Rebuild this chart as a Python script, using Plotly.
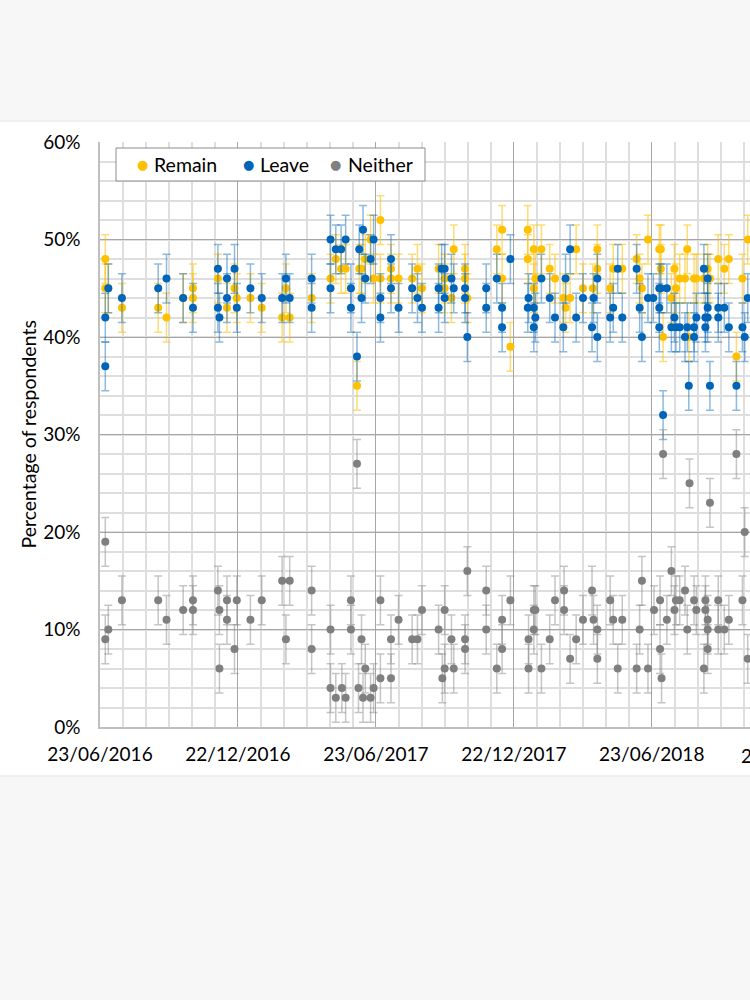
import plotly.graph_objects as go

# ---------------- data ----------------
remain_dates = [
    "2016-06-30", "2016-06-30", "2016-07-04", "2016-07-22", "2016-09-08", "2016-09-19", "2016-10-11", "2016-10-24",
    "2016-10-24", "2016-11-26", "2016-12-08", "2016-12-18", "2016-12-21", "2017-01-08", "2017-01-23", "2017-02-19",
    "2017-02-24", "2017-03-01", "2017-03-30", "2017-04-24", "2017-05-01", "2017-05-08", "2017-05-14", "2017-05-29",
    "2017-06-01", "2017-06-04", "2017-06-09", "2017-06-16", "2017-06-20", "2017-06-29", "2017-06-29", "2017-07-13",
    "2017-07-13", "2017-07-23", "2017-08-10", "2017-08-17", "2017-08-23", "2017-09-14", "2017-09-22", "2017-09-22",
    "2017-10-01", "2017-10-04", "2017-10-19", "2017-10-19", "2017-10-22", "2017-11-30", "2017-12-07", "2017-12-07",
    "2017-12-18", "2018-01-10", "2018-01-10", "2018-01-18", "2018-01-18", "2018-01-20", "2018-01-28", "2018-02-08",
    "2018-02-15", "2018-02-26", "2018-03-01", "2018-03-07", "2018-03-15", "2018-03-24", "2018-04-06", "2018-04-12",
    "2018-04-12", "2018-04-29", "2018-05-03", "2018-05-15", "2018-06-03", "2018-06-07", "2018-06-10", "2018-06-18",
    "2018-07-03", "2018-07-05", "2018-07-05", "2018-07-08", "2018-07-19", "2018-07-23", "2018-07-25", "2018-07-30",
    "2018-08-06", "2018-08-09", "2018-08-11", "2018-08-18", "2018-08-21", "2018-08-31", "2018-09-05", "2018-09-08",
    "2018-09-19", "2018-09-27", "2018-10-03", "2018-10-13", "2018-10-21", "2018-10-28",
]
remain_pct = [
    48, 45, 45, 43, 43, 42, 44, 45,
    44, 46, 43, 45, 44, 44, 43, 42,
    45, 42, 44, 46, 48, 47, 47, 35,
    47, 47, 48, 50, 46, 52, 46, 47,
    46, 46, 46, 47, 45, 47, 46, 45,
    44, 49, 47, 46, 44, 49, 51, 46,
    39, 51, 48, 49, 45, 46, 49, 47,
    46, 44, 43, 44, 49, 45, 45, 49,
    47, 45, 47, 47, 48, 46, 45, 50,
    49, 49, 47, 40, 44, 47, 45, 46,
    46, 49, 40, 46, 46, 46, 47, 46,
    48, 47, 48, 38, 46, 50,
]

leave_dates = [
    "2016-06-30", "2016-06-30", "2016-07-04", "2016-07-22", "2016-09-08", "2016-09-19", "2016-10-11", "2016-10-24",
    "2016-11-26", "2016-11-26", "2016-11-28", "2016-12-08", "2016-12-08", "2016-12-18", "2016-12-21", "2017-01-08",
    "2017-01-23", "2017-02-19", "2017-02-24", "2017-03-01", "2017-03-30", "2017-03-30", "2017-04-24", "2017-04-24",
    "2017-05-01", "2017-05-08", "2017-05-14", "2017-05-21", "2017-05-21", "2017-05-29", "2017-06-01", "2017-06-04",
    "2017-06-06", "2017-06-09", "2017-06-16", "2017-06-20", "2017-06-29", "2017-06-29", "2017-07-13", "2017-07-13",
    "2017-07-23", "2017-08-10", "2017-08-17", "2017-08-23", "2017-09-14", "2017-09-14", "2017-09-18", "2017-09-22",
    "2017-09-22", "2017-10-01", "2017-10-04", "2017-10-19", "2017-10-19", "2017-10-22", "2017-11-16", "2017-11-16",
    "2017-11-30", "2017-12-07", "2017-12-07", "2017-12-18", "2018-01-10", "2018-01-11", "2018-01-18", "2018-01-18",
    "2018-01-20", "2018-01-28", "2018-02-08", "2018-02-15", "2018-02-26", "2018-03-01", "2018-03-07", "2018-03-15",
    "2018-03-24", "2018-04-05", "2018-04-07", "2018-04-12", "2018-04-12", "2018-04-29", "2018-05-03", "2018-05-09",
    "2018-05-15", "2018-06-03", "2018-06-07", "2018-06-10", "2018-06-18", "2018-06-25", "2018-07-03", "2018-07-03",
    "2018-07-03", "2018-07-05", "2018-07-08", "2018-07-13", "2018-07-19", "2018-07-23", "2018-07-25", "2018-07-30",
    "2018-08-06", "2018-08-09", "2018-08-11", "2018-08-18", "2018-08-18", "2018-08-21", "2018-08-31", "2018-09-02",
    "2018-09-02", "2018-09-05", "2018-09-05", "2018-09-05", "2018-09-08", "2018-09-19", "2018-09-19", "2018-09-27",
    "2018-10-03", "2018-10-13", "2018-10-21", "2018-10-24", "2018-10-28",
]
leave_pct = [
    42, 37, 45, 44, 45, 46, 44, 43,
    47, 43, 42, 46, 44, 47, 43, 45,
    44, 44, 46, 44, 46, 43, 50, 45,
    49, 49, 50, 45, 43, 38, 49, 44,
    51, 46, 48, 50, 44, 42, 48, 45,
    43, 45, 44, 43, 45, 43, 47, 47,
    44, 46, 45, 45, 44, 40, 45, 43,
    46, 43, 41, 48, 43, 44, 43, 41,
    42, 46, 44, 42, 41, 46, 49, 42,
    44, 41, 44, 46, 40, 42, 43, 47,
    42, 47, 43, 40, 44, 44, 45, 43,
    41, 45, 32, 45, 41, 42, 41, 41,
    40, 41, 35, 41, 40, 42, 47, 42,
    41, 46, 43, 42, 35, 43, 42, 43,
    41, 35, 41, 40, 44,
]

neither_dates = [
    "2016-06-30", "2016-06-30", "2016-07-04", "2016-07-22", "2016-09-08", "2016-09-19", "2016-10-11", "2016-10-24",
    "2016-10-24", "2016-11-26", "2016-11-28", "2016-11-28", "2016-12-08", "2016-12-08", "2016-12-18", "2016-12-21",
    "2017-01-08", "2017-01-23", "2017-02-19", "2017-02-24", "2017-03-01", "2017-03-30", "2017-03-30", "2017-04-24",
    "2017-04-24", "2017-05-01", "2017-05-09", "2017-05-14", "2017-05-21", "2017-05-21", "2017-05-29", "2017-05-31",
    "2017-06-04", "2017-06-06", "2017-06-09", "2017-06-16", "2017-06-20", "2017-06-29", "2017-06-29", "2017-07-13",
    "2017-07-13", "2017-07-23", "2017-08-10", "2017-08-17", "2017-08-23", "2017-09-14", "2017-09-19", "2017-09-22",
    "2017-09-22", "2017-10-01", "2017-10-04", "2017-10-19", "2017-10-19", "2017-10-22", "2017-11-16", "2017-11-16",
    "2017-11-30", "2017-12-07", "2017-12-07", "2017-12-18", "2018-01-11", "2018-01-11", "2018-01-18", "2018-01-18",
    "2018-01-20", "2018-01-28", "2018-02-08", "2018-02-15", "2018-02-27", "2018-02-27", "2018-03-07", "2018-03-15",
    "2018-03-24", "2018-04-05", "2018-04-07", "2018-04-12", "2018-04-12", "2018-04-29", "2018-05-03", "2018-05-09",
    "2018-05-15", "2018-06-03", "2018-06-07", "2018-06-10", "2018-06-18", "2018-06-26", "2018-07-04", "2018-07-04",
    "2018-07-06", "2018-07-08", "2018-07-13", "2018-07-19", "2018-07-23", "2018-07-25", "2018-07-30", "2018-08-06",
    "2018-08-09", "2018-08-12", "2018-08-18", "2018-08-21", "2018-08-31", "2018-09-02", "2018-09-02", "2018-09-05",
    "2018-09-05", "2018-09-05", "2018-09-08", "2018-09-19", "2018-09-19", "2018-09-27", "2018-10-03", "2018-10-13",
    "2018-10-21", "2018-10-24", "2018-10-28",
]
neither_pct = [
    19, 9, 10, 13, 13, 11, 12, 13,
    12, 14, 12, 6, 13, 11, 8, 13,
    11, 13, 15, 9, 15, 14, 8, 10,
    4, 3, 4, 3, 13, 10, 27, 4,
    9, 3, 6, 3, 4, 13, 5, 9,
    5, 11, 9, 9, 12, 10, 5, 12,
    6, 9, 6, 9, 8, 16, 14, 10,
    6, 11, 8, 13, 9, 6, 12, 10,
    12, 6, 9, 13, 14, 12, 7, 9,
    11, 14, 11, 10, 7, 13, 11, 6,
    11, 6, 10, 15, 6, 12, 13, 8,
    5, 28, 11, 16, 12, 13, 13, 14,
    10, 25, 13, 12, 6, 13, 12, 11,
    10, 8, 23, 13, 10, 10, 11, 28,
    13, 20, 7,
]

# approximate half-width of the plotted confidence intervals (percentage points)
remain_err = 2.5
leave_err = 2.5
neither_err = 2.5

series_names = ["Remain", "Leave", "Neither"]
y_ticks = [0, 10, 20, 30, 40, 50, 60]
x_start = "2016-06-23"
x_end = "2018-10-31"
cut_label = "22/12/2018"
y_title = "Percentage of respondents"

# ---------------- figure ----------------
DAY_MS = 86400000
FONT = "Lato, 'Open Sans', 'DejaVu Sans', sans-serif"
W, H = 750, 1000
L, R, T, B = 100, 0, 142, 273
PW, PH = W - L - R, H - T - B


def px_x(px):
    return (px - L) / PW


def px_y(py):
    return (H - B - py) / PH


styles = {
    "Remain": dict(color="#FFC000", ecolor="rgba(255,192,0,0.55)"),
    "Leave": dict(color="#0065B8", ecolor="rgba(0,101,184,0.45)"),
    "Neither": dict(color="#7F7F7F", ecolor="rgba(127,127,127,0.45)"),
}
data = {
    "Remain": (remain_dates, remain_pct, remain_err),
    "Leave": (leave_dates, leave_pct, leave_err),
    "Neither": (neither_dates, neither_pct, neither_err),
}

fig = go.Figure()
for name in series_names:
    xs, ys, err = data[name]
    st = styles[name]
    fig.add_trace(go.Scatter(
        x=xs, y=ys, mode="markers", name=name, showlegend=False,
        marker=dict(color=st["color"], size=8, line=dict(width=0)),
        error_y=dict(type="constant", value=err, color=st["ecolor"], thickness=1.5, width=4),
    ))

# page background: grey band, white chart card
fig.add_shape(type="rect", xref="paper", yref="paper", x0=-0.3, x1=1.2,
              y0=px_y(776), y1=px_y(121),
              fillcolor="white", line=dict(color="#e4e4e4", width=1), layer="below")

# legend box (drawn manually to match the reference spacing)
fig.add_shape(type="rect", xref="paper", yref="paper", x0=px_x(116), x1=px_x(425),
              y0=px_y(181), y1=px_y(148), fillcolor="white",
              line=dict(color="#8c8c8c", width=1), layer="above")
legend_dot_px = [142, 248, 335]
legend_text_px = [152, 258, 346]
for name, dx, tx in zip(series_names, legend_dot_px, legend_text_px):
    fig.add_annotation(text="●", xref="paper", yref="paper", x=px_x(dx), y=px_y(165),
                       showarrow=False, xanchor="center", yanchor="middle",
                       font=dict(family="'DejaVu Sans', sans-serif", size=13, color=styles[name]["color"]))
    fig.add_annotation(text=name, xref="paper", yref="paper", x=px_x(tx), y=px_y(164.5),
                       showarrow=False, xanchor="left", yanchor="middle",
                       font=dict(family=FONT, size=19.5, color="#000000"))

fig.add_annotation(text=y_title, xref="paper", yref="paper", x=px_x(28), y=0.5,
                   textangle=-90, showarrow=False, xanchor="center", yanchor="middle",
                   font=dict(family=FONT, size=19.5, color="#000000"))
fig.add_annotation(text=cut_label, xref="paper", yref="paper", x=px_x(793), y=px_y(755),
                   showarrow=False, xanchor="center", yanchor="middle",
                   font=dict(family=FONT, size=19, color="#000000"))

fig.update_layout(
    width=W, height=H,
    margin=dict(l=L, r=R, t=T, b=B, autoexpand=False),
    paper_bgcolor="#f7f7f7", plot_bgcolor="white",
    font=dict(family=FONT, size=19, color="#000000"),
    showlegend=False,
    xaxis=dict(
        type="date", range=[x_start, x_end], tick0=x_start, dtick=182.5 * DAY_MS,
        tickformat="%d/%m/%Y", showgrid=True, gridcolor="#a6a6a6", gridwidth=1,
        minor=dict(tick0=x_start, dtick=182.5 / 6 * DAY_MS, showgrid=True, gridcolor="#dedede", gridwidth=1.5),
        showline=True, linecolor="#bfbfbf", linewidth=1.5, ticks="", zeroline=False,
        ticklabelstandoff=9, automargin=False, fixedrange=True,
    ),
    yaxis=dict(
        range=[0, 60], tickvals=y_ticks, ticktext=[f"{v}%" for v in y_ticks],
        showgrid=True, gridcolor="#a6a6a6", gridwidth=1,
        minor=dict(dtick=2, showgrid=True, gridcolor="#dedede", gridwidth=1.5),
        showline=True, linecolor="#bfbfbf", linewidth=1.5, ticks="", zeroline=False,
        ticklabelstandoff=14, automargin=False, fixedrange=True,
    ),
)

fig.write_html(
    "out.html",
    config={"displayModeBar": False},
    post_script="document.body.style.margin='0';document.body.style.padding='0';"
                "document.body.style.background='#f7f7f7';document.body.style.overflow='hidden';",
)
